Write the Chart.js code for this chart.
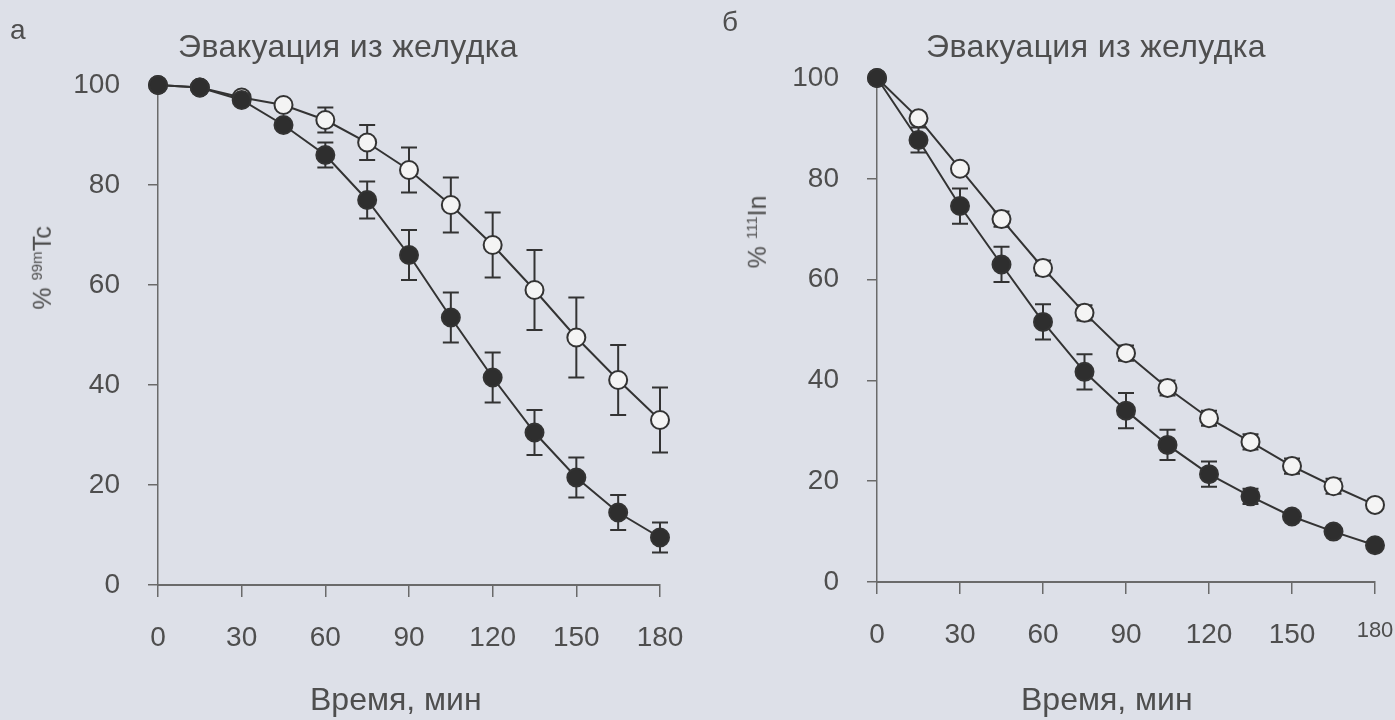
<!DOCTYPE html>
<html>
<head>
<meta charset="utf-8">
<script src="https://cdn.jsdelivr.net/npm/chart.js@4"></script>
<style>
  body { margin: 0; background: #dde0e8; font-family: "Liberation Sans", Arial, sans-serif; color: #4e4e4e; }
  #page { position: relative; width: 1395px; height: 720px; overflow: hidden; }
  .box { position: absolute; top: 0; height: 720px; }
  .txt { position: absolute; white-space: nowrap; line-height: 1; }
  .title { font-size: 32px; letter-spacing: 0.4px; }
  .xtitle { font-size: 32px; }
  .ytitle { transform: translate(-50%, -50%) rotate(-90deg); font-size: 25px; }
  sup { font-size: 15px; }
</style>
</head>
<body>
<div id="page">
  <div class="box" style="left:0;width:700px"><canvas id="chartA"></canvas></div>
  <div class="box" style="left:700px;width:695px"><canvas id="chartB"></canvas></div>

  <div class="txt" style="left:10px;top:16px;font-size:28px">а</div>
  <div class="txt title" style="left:178px;top:30px">Эвакуация из желудка</div>
  <div class="txt ytitle" style="left:42px;top:268px">% <sup>99m</sup>Tc</div>
  <div class="txt xtitle" style="left:310px;top:683px">Время, мин</div>

  <div class="txt" style="left:722px;top:8px;font-size:28px">б</div>
  <div class="txt title" style="left:926px;top:30px">Эвакуация из желудка</div>
  <div class="txt ytitle" style="left:757px;top:232px">% <sup>111</sup>In</div>
  <div class="txt xtitle" style="left:1021px;top:683px">Время, мин</div>
</div>

<script>
// время, мин
const minutes = [0, 15, 30, 45, 60, 75, 90, 105, 120, 135, 150, 165, 180];
const xTicks = [0, 30, 60, 90, 120, 150, 180];
const yTicks = [0, 20, 40, 60, 80, 100];

// panel a, 99mTc
const tcFilled = [100, 99.5, 97, 92, 86, 77, 66, 53.5, 41.5, 30.5, 21.5, 14.5, 9.5];
const tcFilledErr = [0, 0, 0, 0, 2.5, 3.7, 5, 5, 5, 4.5, 4, 3.5, 3];
const tcOpen = [100, 99.5, 97.5, 96, 93, 88.5, 83, 76, 68, 59, 49.5, 41, 33];
const tcOpenErr = [0, 0, 0, 0, 2.5, 3.5, 4.5, 5.5, 6.5, 8, 8, 7, 6.5];

// panel b, 111In
const inFilled = [100, 87.7, 74.6, 63, 51.6, 41.7, 34, 27.2, 21.4, 17, 13, 10, 7.3];
const inFilledErr = [0, 2.5, 3.5, 3.5, 3.5, 3.5, 3.5, 3, 2.5, 1.5, 0.8, 0.5, 0.5];
const inOpen = [100, 92, 82, 72, 62.3, 53.4, 45.4, 38.5, 32.5, 27.8, 23, 19, 15.3];
const inOpenErr = [0, 1, 1, 1.5, 1.5, 1.5, 1.5, 1.5, 1.5, 1.5, 1.5, 1.5, 1];

const ink = '#333333';
const grey = '#6a6a6a';

// error bars drawn through the chart scales
const errorBars = {
    id: 'errorBars',
    beforeDatasetsDraw(chart) {
        const ctx = chart.ctx;
        const x = chart.scales.x, y = chart.scales.y;
        ctx.save();
        ctx.strokeStyle = ink;
        ctx.lineWidth = 2;
        chart.data.datasets.forEach(ds => {
            ds.data.forEach((p, i) => {
                const e = ds.err[i];
                if (!e) return;
                const px = x.getPixelForValue(p.x);
                const top = y.getPixelForValue(p.y + e);
                const bot = y.getPixelForValue(p.y - e);
                ctx.beginPath();
                ctx.moveTo(px, top); ctx.lineTo(px, bot);
                ctx.moveTo(px - 8, top); ctx.lineTo(px + 8, top);
                ctx.moveTo(px - 8, bot); ctx.lineTo(px + 8, bot);
                ctx.stroke();
            });
        });
        ctx.restore();
    }
};

function series(values, err, filled) {
    return {
        data: minutes.map((m, i) => ({ x: m, y: values[i] })),
        err: err,
        borderColor: ink,
        borderWidth: 2,
        pointRadius: 9,
        pointHoverRadius: 9,
        pointBorderWidth: 2,
        pointBorderColor: ink,
        pointBackgroundColor: filled ? '#2e2e2e' : '#f4f4f4',
        clip: false,
        tension: 0
    };
}

function makeChart(id, open, openErr, filled, filledErr, box) {
    const ctx = document.getElementById(id).getContext('2d');
    return new Chart(ctx, {
        type: 'line',
        data: {
            // first dataset is drawn on top -> filled circles over open ones
            datasets: [
                series(filled, filledErr, true),
                series(open, openErr, false)
            ]
        },
        options: {
            responsive: true,
            maintainAspectRatio: false,
            animation: false,
            layout: { padding: { top: box.top, right: box.right, left: 0, bottom: 0 } },
            plugins: { legend: { display: false }, tooltip: { enabled: false } },
            scales: {
                x: {
                    type: 'linear',
                    min: 0, max: 180,
                    afterFit: s => {
                        s.height = box.bottom;
                        s.paddingLeft = 0;
                        s.paddingRight = 0;
                    },
                    afterBuildTicks: s => { s.ticks = xTicks.map(v => ({ value: v })); },
                    grid: { drawOnChartArea: false, color: grey, tickLength: 12, lineWidth: 1.5 },
                    border: { color: grey, width: 2 },
                    ticks: {
                        color: '#4e4e4e',
                        padding: 24,
                        maxRotation: 0,
                        font: c => ({ family: 'Liberation Sans', size: (box.small && c.tick && c.tick.value === 180) ? 22 : 28 })
                    }
                },
                y: {
                    min: 0, max: 100,
                    afterFit: s => {
                        s.width = box.left;
                        s.paddingTop = 0;
                        s.paddingBottom = 0;
                    },
                    afterBuildTicks: s => { s.ticks = yTicks.map(v => ({ value: v })); },
                    grid: { drawOnChartArea: false, color: grey, tickLength: 10, lineWidth: 1.5 },
                    border: { color: grey, width: 1.5 },
                    ticks: { color: '#4e4e4e', padding: 28, font: { family: 'Liberation Sans', size: 28 } }
                }
            }
        },
        plugins: [errorBars]
    });
}

makeChart('chartA', tcOpen, tcOpenErr, tcFilled, tcFilledErr, { left: 158, right: 40, top: 85, bottom: 135 });
makeChart('chartB', inOpen, inOpenErr, inFilled, inFilledErr, { left: 177, right: 20, top: 78, bottom: 138, small: true });
</script>
</body>
</html>
